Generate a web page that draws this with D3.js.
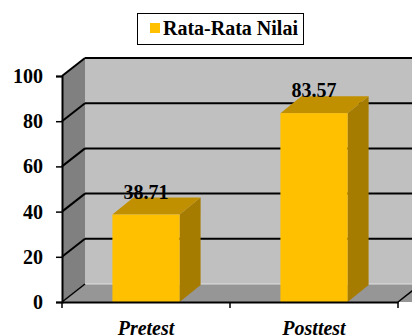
<!DOCTYPE html>
<html>
<head>
<meta charset="utf-8">
<script src="https://cdn.jsdelivr.net/npm/d3@7"></script>
<style>
  body { margin: 0; background: #fff; }
  svg { display: block; }
  svg text { font-family: "Liberation Serif", "Times New Roman", "DejaVu Serif", serif !important; }
</style>
</head>
<body>
<div id="chart"></div>
<script>
const categories = ['Pretest', 'Posttest'];
const values = [38.71, 83.57];
const yTicks = [0, 20, 40, 60, 80, 100];
const seriesName = 'Rata-Rata Nilai';

const width = 412;
const height = 336;
const depthX = 23;
const depthY = -18;
const barDX = 21;
const barDY = -17;

const svg = d3.select('#chart')
  .append('svg')
  .attr('width', width)
  .attr('height', height);

const xScale = d3.scaleBand()
  .domain(categories)
  .range([62, 398])
  .padding(0);

const yScale = d3.scaleLinear()
  .domain([0, 100])
  .range([302, 76]);

const x0 = xScale.range()[0];
const x1 = xScale.range()[1];
const yBottom = yScale(0);
const yTop = yScale(100);

// back wall
svg.append('rect')
  .attr('x', x0 + depthX)
  .attr('y', yTop + depthY)
  .attr('width', width)
  .attr('height', yBottom - yTop)
  .attr('fill', '#c0c0c0');

// left side wall
svg.append('polygon')
  .attr('points', [
    [x0, yTop], [x0 + depthX, yTop + depthY],
    [x0 + depthX, yBottom + depthY], [x0, yBottom]
  ].join(' '))
  .attr('fill', '#808080');

// floor
svg.append('polygon')
  .attr('points', [
    [x0, yBottom], [x0 + depthX, yBottom + depthY],
    [x1 + depthX + 40, yBottom + depthY], [x1 + 40, yBottom]
  ].join(' '))
  .attr('fill', '#969696');

svg.append('line')
  .attr('x1', x0 + depthX).attr('x2', width)
  .attr('y1', yBottom + depthY).attr('y2', yBottom + depthY)
  .attr('stroke', '#e0e0e0').attr('stroke-width', 1);

// gridlines on back wall and side wall
const grid = svg.append('g');
yTicks.filter(t => t > 0).forEach(t => {
  const y = yScale(t);
  grid.append('line')
    .attr('x1', x0 + depthX).attr('x2', width)
    .attr('y1', y + depthY).attr('y2', y + depthY)
    .attr('stroke', '#000').attr('stroke-width', 2);
  grid.append('line')
    .attr('x1', x0).attr('x2', x0 + depthX)
    .attr('y1', y).attr('y2', y + depthY)
    .attr('stroke', '#000').attr('stroke-width', 2);
});
grid.append('line')
  .attr('x1', x0).attr('x2', x0 + depthX)
  .attr('y1', yBottom).attr('y2', yBottom + depthY)
  .attr('stroke', '#000').attr('stroke-width', 1.5);

// floor right edge
svg.append('line')
  .attr('x1', x1).attr('x2', x1 + depthX)
  .attr('y1', yBottom).attr('y2', yBottom + depthY)
  .attr('stroke', '#000').attr('stroke-width', 1.5);

// bars
const data = d3.zip(categories, values);
const barW = xScale.bandwidth() * 0.4;
const barX = d => xScale(d[0]) + (xScale.bandwidth() - barW) / 2;
const bars = svg.selectAll('.bar')
  .data(data)
  .enter()
  .append('g')
  .attr('class', 'bar');

bars.append('polygon')
  .attr('points', d => {
    const bx = barX(d);
    const by = yScale(d[1]);
    return [[bx + barW, by], [bx + barW + barDX, by + barDY],
      [bx + barW + barDX, yBottom + barDY], [bx + barW, yBottom]].join(' ');
  })
  .attr('fill', '#a67c00');

bars.append('polygon')
  .attr('points', d => {
    const bx = barX(d);
    const by = yScale(d[1]);
    return [[bx, by], [bx + barDX, by + barDY],
      [bx + barW + barDX, by + barDY], [bx + barW, by]].join(' ');
  })
  .attr('fill', '#c09000');

bars.append('rect')
  .attr('x', barX)
  .attr('y', d => yScale(d[1]))
  .attr('width', barW)
  .attr('height', d => yBottom - yScale(d[1]))
  .attr('fill', '#ffc000');

bars.append('text')
  .attr('x', d => xScale(d[0]) + xScale.bandwidth() / 2)
  .attr('y', d => yScale(d[1]) + barDY + 1)
  .attr('text-anchor', 'middle')
  .attr('font-size', 20)
  .attr('font-weight', 'bold')
  .text(d => d[1].toFixed(2));

// axes
const yAxis = svg.append('g')
  .attr('transform', `translate(${x0}, 0)`)
  .call(d3.axisLeft(yScale).tickValues(yTicks).tickSize(6).tickPadding(13).tickFormat(d3.format('d')));
yAxis.select('.domain').attr('stroke', '#000').attr('stroke-width', 2);
yAxis.selectAll('.tick line').attr('stroke', '#000').attr('stroke-width', 1.5);
yAxis.selectAll('.tick text')
  .attr('font-size', 20)
  .attr('font-weight', 'bold')
  .attr('fill', '#000');

const xAxis = svg.append('g')
  .attr('transform', `translate(0, ${yBottom})`)
  .call(d3.axisBottom(xScale).tickSize(0).tickPadding(19));
xAxis.select('.domain').attr('stroke', '#000').attr('stroke-width', 2);
xAxis.selectAll('.tick text')
  .attr('font-size', 20)
  .attr('font-weight', 'bold')
  .attr('font-style', 'italic')
  .attr('fill', '#000');

// category separator ticks
[x0, x0 + xScale.bandwidth(), x1].forEach(x => {
  svg.append('line')
    .attr('x1', x).attr('x2', x)
    .attr('y1', yBottom).attr('y2', yBottom + 6)
    .attr('stroke', '#000').attr('stroke-width', 1.5);
});

// legend
const legend = svg.append('g');
legend.append('rect')
  .attr('x', 137.5).attr('y', 13.5)
  .attr('width', 166).attr('height', 31)
  .attr('fill', '#fff')
  .attr('stroke', '#000')
  .attr('stroke-width', 1);
legend.append('rect')
  .attr('x', 150).attr('y', 23)
  .attr('width', 10).attr('height', 10)
  .attr('fill', '#ffc000');
legend.append('text')
  .attr('x', 163).attr('y', 35)
  .attr('font-size', 20)
  .attr('font-weight', 'bold')
  .text(seriesName);
</script>
</body>
</html>
